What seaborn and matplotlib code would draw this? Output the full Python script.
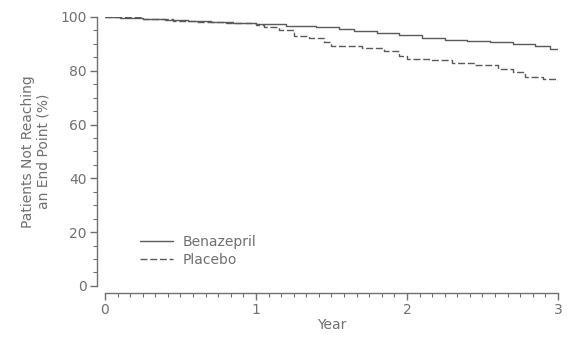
import matplotlib
matplotlib.use("Agg")
import matplotlib.pyplot as plt
from matplotlib.ticker import MultipleLocator
import seaborn as sns
import pandas as pd

benazepril_years = [0, 0.1, 0.25, 0.4, 0.55, 0.7, 0.85, 1.0, 1.2, 1.4, 1.55, 1.65, 1.8, 1.95,
                    2.1, 2.25, 2.4, 2.55, 2.7, 2.85, 2.95, 3.0]
benazepril_pct = [100, 99.7, 99.3, 98.8, 98.4, 98.0, 97.6, 97.2, 96.8, 96.3, 95.6, 94.8, 94.0, 93.2,
                  92.3, 91.5, 91.0, 90.6, 89.9, 89.0, 88.2, 88.0]
placebo_years = [0, 0.1, 0.25, 0.45, 0.6, 0.8, 1.0, 1.05, 1.15, 1.25, 1.35, 1.45, 1.5, 1.7, 1.85,
                 1.95, 2.0, 2.15, 2.3, 2.45, 2.6, 2.7, 2.78, 2.9, 3.0]
placebo_pct = [100, 99.8, 99.2, 98.6, 98.2, 97.6, 97.0, 96.3, 95.0, 93.0, 92.3, 90.5, 89.3, 88.5, 87.5,
               85.5, 84.5, 83.8, 82.8, 82.0, 80.5, 79.5, 77.5, 77.0, 76.0]

df = pd.concat([
    pd.DataFrame({"Year": benazepril_years, "Pct": benazepril_pct, "Group": "Benazepril"}),
    pd.DataFrame({"Year": placebo_years, "Pct": placebo_pct, "Group": "Placebo"}),
])

sns.set_style("ticks")
plt.rcParams['font.family'] = ['DejaVu Sans']
gray = "#707070"
line_gray = "#5a5a5a"

fig = plt.figure(figsize=(5.69, 3.38), dpi=100)
ax = fig.add_axes([0.1845, 0.154, 0.796, 0.796])

sns.lineplot(data=df, x="Year", y="Pct", hue="Group", style="Group",
             palette={"Benazepril": line_gray, "Placebo": line_gray},
             dashes={"Benazepril": "", "Placebo": (5, 2)},
             drawstyle="steps-post", linewidth=1.0, ax=ax)

ax.set_xlim(0, 3)
ax.set_ylim(0, 100)
ax.xaxis.set_major_locator(MultipleLocator(1))
ax.xaxis.set_minor_locator(MultipleLocator(1 / 12))
ax.yaxis.set_major_locator(MultipleLocator(20))
ax.yaxis.set_minor_locator(MultipleLocator(5))
sns.despine(ax=ax, offset={"left": 6, "bottom": 5})
for s in ("left", "bottom"):
    ax.spines[s].set_color(gray)
    ax.spines[s].set_linewidth(1.0)
ax.tick_params(which="major", length=5, width=1.0, color=gray, labelcolor=gray, labelsize=10, pad=2)
ax.tick_params(which="minor", length=3, width=0.8, color=gray)

ax.set_xlabel("Year", color=gray, fontsize=10, labelpad=1)
ax.set_ylabel("Patients Not Reaching\nan End Point (%)", color=gray, fontsize=10, labelpad=7)

leg = ax.legend(loc="lower left", bbox_to_anchor=(0.065, 0.05), frameon=False, fontsize=10,
                handlelength=2.4, handletextpad=0.7, labelspacing=0.3, borderaxespad=0)
for t in leg.get_texts():
    t.set_color(gray)

fig.savefig("out.png", dpi=100)
